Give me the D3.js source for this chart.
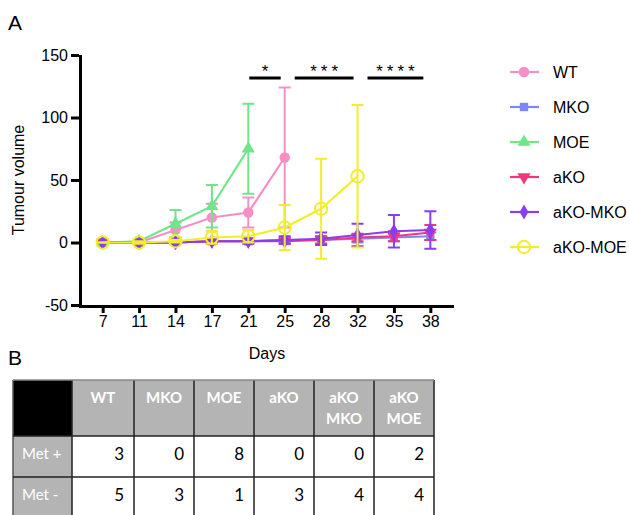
<!DOCTYPE html>
<html>
<head>
<meta charset="utf-8">
<script src="https://cdn.jsdelivr.net/npm/d3@7"></script>
<style>
  body { margin: 0; background: #fff; }
  svg { display: block; }
</style>
</head>
<body>
<script>
// Tumour volume plot (A) + metastasis table (B)

const w = 630;
const h = 515;

const days = ["7", "11", "14", "17", "21", "25", "28", "32", "35", "38"];
const yTicks = [150, 100, 50, 0, -50];

const groups = ["WT", "MKO", "MOE", "aKO", "aKO-MKO", "aKO-MOE"];
const colors = ["#f78fc6", "#7f86f5", "#6ee68a", "#f0367c", "#8a3cf0", "#f2ee2e"];

// means and error (SD) per day, only up to the last day measured
const wtMean = [0, 0, 10, 20, 24, 68];
const wtErr = [0, 1, 6, 11, 12, 56];
const mkoMean = [0, 0, 0, 1, 1, 2, 2, 3, 4, 5];
const mkoErr = [0, 1, 1, 1, 1, 2, 3, 3, 3, 3];
const moeMean = [0, 1, 15, 29, 75];
const moeErr = [0, 1, 11, 17, 36];
const akoMean = [0, 0, 0, 1, 1, 1, 2, 4, 5, 8];
const akoErr = [0, 1, 1, 1, 1, 2, 3, 3, 4, 6];
const akoMkoMean = [0, 0, 0, 1, 1, 2, 3, 6, 9, 10];
const akoMkoErr = [0, 1, 1, 2, 2, 3, 5, 9, 13, 15];
const akoMoeMean = [0, 0, 1, 4, 5, 12, 27, 53];
const akoMoeErr = [0, 1, 1, 5, 5, 18, 40, 57];

const means = [wtMean, mkoMean, moeMean, akoMean, akoMkoMean, akoMoeMean];
const errs = [wtErr, mkoErr, moeErr, akoErr, akoMkoErr, akoMoeErr];

// significance brackets
const sigFrom = ["21", "25", "32"];
const sigTo = ["25", "32", "38"];
const sigLabels = ["*", "***", "****"];

// table
const tableCols = ["WT", "MKO", "MOE", "aKO", "aKO\nMKO", "aKO\nMOE"];
const rowLabels = ["Met +", "Met -"];
const metPos = [3, 0, 8, 0, 0, 2];
const metNeg = [5, 3, 1, 3, 4, 4];

const svg = d3.select("body")
  .append("svg")
  .attr("width", w)
  .attr("height", h);

const font = "'Liberation Sans', Arial, sans-serif";

// panel letters
svg.append("text").attr("x", 8).attr("y", 30).text("A")
  .attr("font-family", font).attr("font-size", 21);
svg.append("text").attr("x", 8).attr("y", 365).text("B")
  .attr("font-family", font).attr("font-size", 21);

const x_scale = d3.scalePoint()
  .domain(days)
  .range([79, 454])
  .padding(0.65);

const y_scale = d3.scaleLinear()
  .domain([-50, 150])
  .range([305, 55]);

const x_axis = d3.axisBottom(x_scale).tickSize(8).tickPadding(3);
const y_axis = d3.axisLeft(y_scale).tickValues(yTicks).tickSize(8).tickPadding(3)
  .tickFormat(d => String(d));

const gx = svg.append("g")
  .attr("class", "x axis")
  .attr("transform", "translate(0,305)")
  .call(x_axis);

const gy = svg.append("g")
  .attr("class", "y axis")
  .attr("transform", "translate(79,0)")
  .call(y_axis);

[gx, gy].forEach(g => {
  g.select(".domain").attr("stroke-width", 3).attr("stroke", "#000");
  g.selectAll(".tick line").attr("stroke-width", 3).attr("stroke", "#000");
  g.selectAll(".tick text").attr("font-family", font).attr("font-size", 16).attr("fill", "#000");
});
gx.select(".domain").attr("d", "M79,1.5H454");
gy.select(".domain").attr("d", "M1.5,55V306.5");

svg.append("text")
  .attr("transform", "translate(24,180) rotate(-90)")
  .attr("text-anchor", "middle")
  .attr("font-family", font).attr("font-size", 16)
  .text("Tumour volume");

svg.append("text")
  .attr("x", 267).attr("y", 359)
  .attr("text-anchor", "middle")
  .attr("font-family", font).attr("font-size", 16)
  .text("Days");

// significance bars
sigLabels.forEach((lab, i) => {
  const xa = x_scale(sigFrom[i]) + (i === 0 ? 1 : 10);
  const xb = x_scale(sigTo[i]) - (i === 2 ? 7 : 4);
  svg.append("line")
    .attr("x1", xa).attr("x2", xb)
    .attr("y1", 78).attr("y2", 78)
    .attr("stroke", "#000").attr("stroke-width", 3);
  svg.append("text")
    .attr("x", (xa + xb) / 2 + 2).attr("y", 77)
    .attr("text-anchor", "middle")
    .attr("font-family", font).attr("font-size", 17)
    .attr("letter-spacing", 4)
    .text(lab);
});

const symbols = [d3.symbolCircle, d3.symbolSquare, d3.symbolTriangle, d3.symbolTriangle, d3.symbolDiamond, d3.symbolCircle];
const symSizes = [85, 70, 75, 75, 65, 120];

groups.forEach((g, gi) => {
  const pts = means[gi].map((m, i) => ({ day: days[i], m: m, e: errs[gi][i] }));
  const col = colors[gi];
  const layer = svg.append("g");

  // error bars
  pts.forEach(p => {
    const cx = x_scale(p.day);
    const top = y_scale(p.m + p.e);
    const bot = y_scale(p.m - p.e);
    layer.append("line").attr("x1", cx).attr("x2", cx).attr("y1", top).attr("y2", bot)
      .attr("stroke", col).attr("stroke-width", 2);
    [top, bot].forEach(yy => {
      layer.append("line").attr("x1", cx - 6).attr("x2", cx + 6).attr("y1", yy).attr("y2", yy)
        .attr("stroke", col).attr("stroke-width", 2);
    });
  });

  const line = d3.line().x(d => x_scale(d.day)).y(d => y_scale(d.m));
  layer.append("path").datum(pts)
    .attr("d", line).attr("fill", "none")
    .attr("stroke", col).attr("stroke-width", 2.2);

  layer.selectAll("path.pt").data(pts).enter().append("path")
    .attr("class", "pt")
    .attr("d", d3.symbol().type(symbols[gi]).size(symSizes[gi]))
    .attr("transform", d => `translate(${x_scale(d.day)},${y_scale(d.m)})` + (gi === 3 ? " rotate(180)" : ""))
    .attr("fill", gi === 5 ? "none" : col)
    .attr("stroke", col)
    .attr("stroke-width", gi === 5 ? 2 : 0);
});

// legend
const legend = svg.append("g");
groups.forEach((g, gi) => {
  const yy = 72 + gi * 35;
  const col = colors[gi];
  legend.append("line").attr("x1", 510).attr("x2", 539).attr("y1", yy).attr("y2", yy)
    .attr("stroke", col).attr("stroke-width", 2.2);
  legend.append("path")
    .attr("d", d3.symbol().type(symbols[gi]).size(symSizes[gi]))
    .attr("transform", `translate(524,${yy})` + (gi === 3 ? " rotate(180)" : ""))
    .attr("fill", gi === 5 ? "none" : col)
    .attr("stroke", col)
    .attr("stroke-width", gi === 5 ? 2 : 0);
  legend.append("text")
    .attr("x", 553).attr("y", yy + 6)
    .attr("font-family", font).attr("font-size", 16)
    .text(g);
});

// table B
const tfont = "Lato, 'Open Sans', sans-serif";
const colEdges = [13, 72, 134, 194, 254, 314, 374, 434];
const rowEdges = [380, 436, 477, 518];
const gray = "#b4b4b4";
const tbl = svg.append("g");

// header row
tbl.append("rect").attr("x", colEdges[0]).attr("y", rowEdges[0])
  .attr("width", colEdges[1] - colEdges[0]).attr("height", rowEdges[1] - rowEdges[0]).attr("fill", "#000");
tableCols.forEach((c, i) => {
  tbl.append("rect").attr("x", colEdges[i + 1]).attr("y", rowEdges[0])
    .attr("width", colEdges[i + 2] - colEdges[i + 1]).attr("height", rowEdges[1] - rowEdges[0])
    .attr("fill", gray);
  c.split("\n").forEach((ln, li) => {
    tbl.append("text")
      .attr("x", (colEdges[i + 1] + colEdges[i + 2]) / 2)
      .attr("y", 403 + li * 21)
      .attr("text-anchor", "middle")
      .attr("font-family", tfont).attr("font-size", 15).attr("font-weight", "bold")
      .attr("fill", "#fff")
      .text(ln);
  });
});

const rowsData = [metPos, metNeg];
rowLabels.forEach((lab, r) => {
  const y0 = rowEdges[r + 1], y1 = rowEdges[r + 2];
  tbl.append("rect").attr("x", colEdges[0]).attr("y", y0)
    .attr("width", colEdges[1] - colEdges[0]).attr("height", y1 - y0).attr("fill", gray);
  tbl.append("text").attr("x", colEdges[0] + 9).attr("y", y0 + 23)
    .attr("font-family", tfont).attr("font-size", 15).attr("fill", "#fff").text(lab);
  rowsData[r].forEach((v, i) => {
    tbl.append("text")
      .attr("x", colEdges[i + 2] - 10).attr("y", y0 + 24)
      .attr("text-anchor", "end")
      .attr("font-family", tfont).attr("font-size", 17).attr("fill", "#000")
      .text(v);
  });
});

// grid lines
colEdges.forEach((cx, i) => {
  tbl.append("line").attr("x1", cx).attr("x2", cx).attr("y1", rowEdges[0]).attr("y2", rowEdges[3])
    .attr("stroke", i === 0 ? "#555" : "#222").attr("stroke-width", 1.5);
});
rowEdges.forEach((ry, i) => {
  tbl.append("line").attr("x1", colEdges[0]).attr("x2", colEdges[7]).attr("y1", ry).attr("y2", ry)
    .attr("stroke", i === 0 ? "#888" : "#222").attr("stroke-width", 1.5);
});
</script>
</body>
</html>
